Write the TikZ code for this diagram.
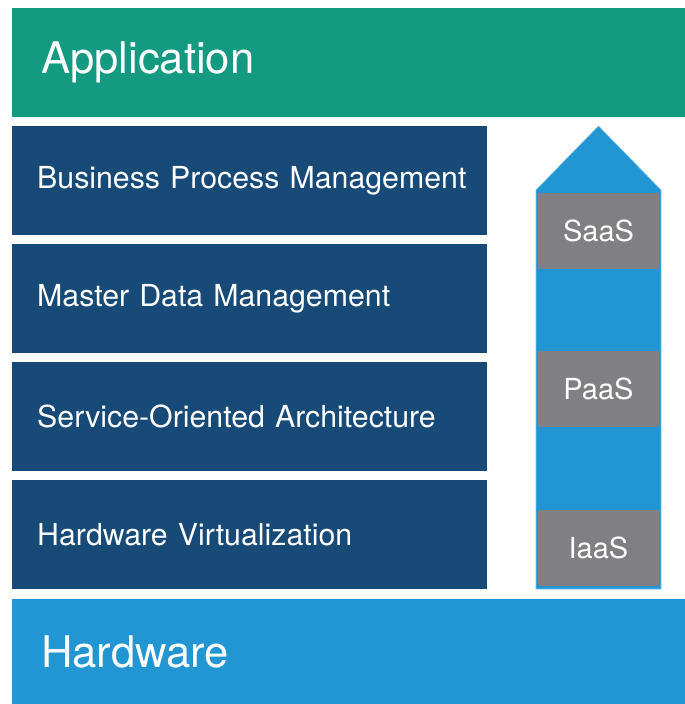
\documentclass[tikz,border=0pt]{standalone}
\usepackage{fontspec}
\setmainfont{TeX Gyre Heros}
\usetikzlibrary{positioning}
\definecolor{appgreen}{RGB}{20,154,128}
\definecolor{layerblue}{RGB}{24,74,120}
\definecolor{hwblue}{RGB}{33,150,211}
\definecolor{servgray}{RGB}{128,127,131}
\tikzset{
	bigbar/.style={fill=#1, text=white, anchor=north west, minimum width=673pt, inner xsep=29pt, text width=615pt, align=left, font=\fontsize{43.6}{50}\selectfont},
	layer/.style={fill=layerblue, text=white, anchor=north west, minimum height=109pt, inner xsep=25pt, text width=425pt, align=left, font=\fontsize{30.3}{35}\selectfont},
	servbox/.style={fill=servgray, text=white, minimum width=121pt, minimum height=76pt, inner sep=0pt, font=\fontsize{29}{35}\selectfont}
}
\begin{document}
\begin{tikzpicture}[x=1pt, y=-1pt]
		%%%%% START %%%%%
		\useasboundingbox (0, 0) rectangle (685, 704);
		
		\node[bigbar=appgreen, minimum height=109pt] (app) at (12, 8) {Application};
		
		\node[layer] (bpm) at (12, 126) {\mbox{Business Process Management}};
		\node[layer] (mdm) at (12, 244) {Master Data Management};
		\node[layer] (soa) at (12, 362) {Service-Oriented Architecture};
		\node[layer] (hwv) at (12, 480) {Hardware Virtualization};
		
		\node[bigbar=hwblue, minimum height=105pt] (hw) at (12, 599) {Hardware};
		
		% service arrow
		\filldraw[fill=hwblue, draw=hwblue!60, line width=0.6pt] (536, 589) -- (536, 190) -- (598.5, 126) -- (661, 190) -- (661, 589) -- cycle;
		
		\node[servbox] (saas) at (598.5, 231) {SaaS};
		\node[servbox] (paas) at (598.5, 389) {PaaS};
		\node[servbox] (iaas) at (598.5, 547.5) {IaaS};
		
		%%%%% END %%%%%
\end{tikzpicture}
\end{document}
